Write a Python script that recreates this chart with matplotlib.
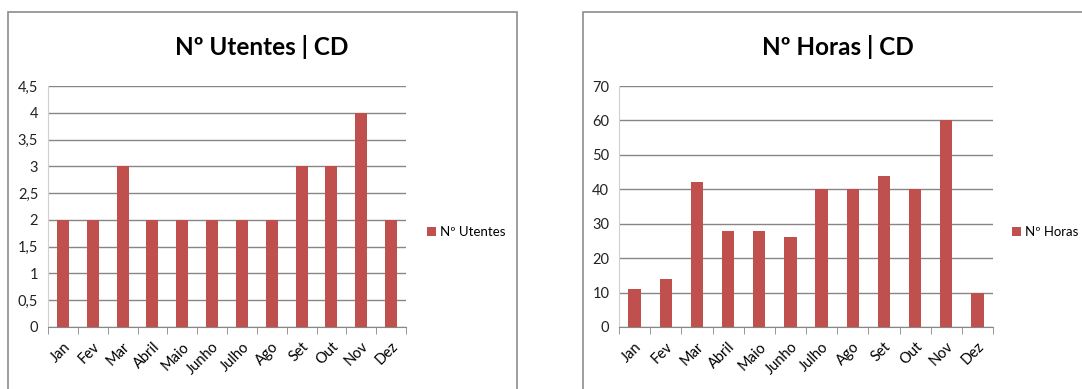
import matplotlib
matplotlib.use('Agg')
import matplotlib.pyplot as plt
from matplotlib.patches import Rectangle
from matplotlib.ticker import FuncFormatter, MultipleLocator
import numpy as np

plt.rcParams['font.family'] = ['Lato', 'DejaVu Sans']

meses = ['Jan', 'Fev', 'Mar', 'Abril', 'Maio', 'Junho', 'Julho', 'Ago', 'Set', 'Out', 'Nov', 'Dez']
utentes = [2, 2, 3, 2, 2, 2, 2, 2, 3, 3, 4, 2]
horas = [11, 14, 42, 28, 28, 26, 40, 40, 44, 40, 60, 10]

COR_BARRA = '#c0504d'
W, H = 1082, 389


def virgula(v, pos):
    s = f'{v:g}'
    return s.replace('.', ',')


# Desenha um gráfico de barras mensal dentro da sua moldura
def grafico(fig, caixa, area, valores, titulo, legenda, ymax, passo, titulo_x, leg_x):
    x0, y0, x1, y1 = caixa
    fig.patches.append(Rectangle((x0 / W, 1 - y1 / H), (x1 - x0) / W, (y1 - y0) / H,
                                 transform=fig.transFigure, fill=False,
                                 edgecolor='#8c8c8c', linewidth=1.2))
    ax_x0, ax_y0, ax_x1, ax_y1 = area
    ax = fig.add_axes([ax_x0 / W, 1 - ax_y1 / H, (ax_x1 - ax_x0) / W, (ax_y1 - ax_y0) / H])
    pos = np.arange(len(meses))
    barras = ax.bar(pos, valores, width=0.4, color=COR_BARRA, zorder=3, label=legenda)
    ax.set_xlim(-0.5, len(meses) - 0.5)
    ax.set_ylim(0, ymax)
    ax.yaxis.set_major_locator(MultipleLocator(passo))
    ax.yaxis.set_major_formatter(FuncFormatter(virgula))
    ax.grid(axis='y', color='#868686', linewidth=1, zorder=0)
    ax.set_axisbelow(True)
    for s in ['top', 'right']:
        ax.spines[s].set_visible(False)
    ax.spines['left'].set_color('#d0d0d0')
    ax.spines['bottom'].set_color('#868686')
    ax.set_xticks(pos)
    ax.set_xticklabels(meses, rotation=45, ha='right', rotation_mode='anchor', fontsize=10.5)
    ax.tick_params(axis='x', length=0, pad=9)
    ax.set_xticks(np.arange(-0.5, len(meses)), minor=True)
    ax.tick_params(axis='x', which='minor', length=5, color='#868686')
    ax.tick_params(axis='y', length=0, labelsize=10.5, pad=7, colors='#222222')
    fig.text(titulo_x / W, 1 - 47 / H, titulo, ha='center', va='center',
             fontsize=17.5, fontweight='bold')
    fig.legend(handles=[barras], labels=[legenda], loc='center left',
               bbox_to_anchor=(leg_x / W, 1 - 232 / H), frameon=False,
               fontsize=9.5, handlelength=0.7, handleheight=0.7, handletextpad=0.3,
               borderaxespad=0, borderpad=0)
    return ax


fig = plt.figure(figsize=(W / 100, H / 100), dpi=100)

grafico(fig, (8, 12, 517, 400), (48, 86, 406, 327), utentes,
        'Nº Utentes | CD', 'Nº Utentes', 4.5, 0.5, 262, 427)
grafico(fig, (583, 12, 1090, 400), (619, 86, 993, 327), horas,
        'Nº Horas | CD', 'Nº Horas', 70, 10, 838, 1012)

fig.savefig('out.png', dpi=100)
